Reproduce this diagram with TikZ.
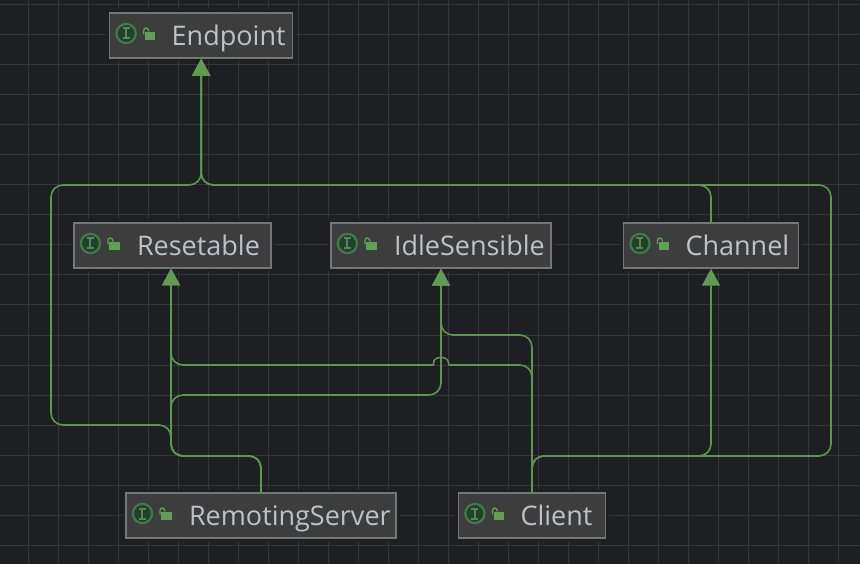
\documentclass[tikz,border=0pt]{standalone}
\usepackage{fontspec}
\setmainfont{Open Sans}
\usetikzlibrary{arrows.meta,calc}
\definecolor{bgc}{HTML}{1E1F22}
\definecolor{gridc}{HTML}{35363A}
\definecolor{boxc}{HTML}{3D3D3D}
\definecolor{boxl}{HTML}{767676}
\definecolor{edgec}{HTML}{5D9650}
\definecolor{tipc}{HTML}{629A52}
\definecolor{txtc}{HTML}{BAC2CC}
\definecolor{icond}{HTML}{24402A}
\definecolor{iconl}{HTML}{3F7A47}
\definecolor{lockc}{HTML}{5FA052}
\tikzset{
  x=1pt,y=-1pt,
  gridline/.style={draw=gridc,line width=1pt},
  ibox/.style={draw=boxl,fill=boxc,line width=1.5pt,text=txtc,
    preaction={draw=bgc,line width=7pt},
    minimum height=45pt,inner xsep=7pt,inner ysep=0pt,text height=25pt,text depth=5.4pt,
    text width=#1pt-14pt,align=left,font=\fontsize{27}{32}\selectfont},
  edgeline/.style={draw=edgec,line width=1.6pt,rounded corners=12pt},
  inherit/.style={edgeline,-{Triangle[width=18pt,length=17pt,fill=tipc,color=tipc]}},
}
\newcommand{\ifaceicon}[1]{%
  \begin{scope}[shift={(#1.west)}]
    \draw[iconl,fill=icond,line width=2.2pt] (17.2,-2) circle[radius=9.6pt];
    \draw[iconl!90!white,line width=2pt] (17.2,-7) -- (17.2,3) (13.7,-7) -- (20.7,-7) (13.7,3) -- (20.7,3);
    \fill[lockc] (36,-3.5) rectangle (46.5,4.5);
    \draw[lockc,line width=1.3pt] (34.8,-1) -- (34.8,-5) .. controls (34.8,-8.5) and (39.5,-8.5) .. (39.8,-4);
  \end{scope}}
\newcommand{\lbl}[2]{\hspace*{#1pt}\mbox{#2}}
\begin{document}
\begin{tikzpicture}
\useasboundingbox (0,0) rectangle (860,564);
\fill[bgc] (0,0) rectangle (860,564);
\foreach \gx in {28,58,...,838} \draw[gridline] (\gx,0) -- (\gx,564);
\foreach \gy in {5,35,...,545} \draw[gridline] (0,\gy) -- (860,\gy);

\node[ibox=183] (endpoint) at (201.2,35.5) {\lbl{55}{Endpoint}};
\node[ibox=197] (resetable) at (172.5,245.5) {\lbl{56}{Resetable}};
\node[ibox=220] (idle) at (441,245.5) {\lbl{56}{IdleSensible}};
\node[ibox=175] (channel) at (711,245.5) {\lbl{55}{Channel}};
\node[ibox=270] (server) at (261,515.5) {\lbl{56}{RemotingServer}};
\node[ibox=147] (client) at (532,515.5) {\lbl{55}{Client}};
\foreach \n in {endpoint,resetable,idle,channel,server,client} {\ifaceicon{\n}}

\coordinate (epBus) at (201.2,185);
\coordinate (srvBus) at (171,456);
\coordinate (srvL) at (51,425);
\coordinate (srvR) at (171,425);
\coordinate (srvI) at (171,395);
\coordinate (cliBusR) at (831,456);
\coordinate (cliBusT) at (831,185);
\coordinate (cliI) at (532,335);
\coordinate (cliR) at (532,365);
\coordinate (bridgeR) at (448.5,365);
\coordinate (bridgeL) at (433.5,365);
\coordinate (resIn) at (171,268.5);

% Channel -> Endpoint
\draw[inherit] (channel.north) |- (epBus) -- (endpoint.south);
% Client -> Endpoint
\draw[inherit] (client.north) |- (cliBusR) -- (cliBusT) -- (epBus) -- (endpoint.south);
% Client -> Channel
\draw[inherit] (client.north) |- (channel.south |- cliBusR) -- (channel.south);
% Client -> IdleSensible
\draw[inherit] (client.north) |- (idle.south |- cliI) -- (idle.south);
% Client -> Resetable, split around a bridge over the IdleSensible line
\draw[edgeline] (client.north) -- (cliR) -- (bridgeR);
\draw[draw=edgec,line width=1.5pt] (bridgeR) -- (448.5,363)
  .. controls (448.5,355.5) and (433.5,355.5) .. (433.5,363) -- (bridgeL);
\draw[inherit] (bridgeL) -- (srvI |- bridgeL) -- (resIn);
% RemotingServer -> Resetable
\draw[inherit] (server.north) |- (srvBus) -- (resIn);
% RemotingServer -> IdleSensible
\draw[inherit] (server.north) |- (srvBus) -- (srvI) -| (idle.south);
% RemotingServer -> Endpoint
\draw[inherit] (server.north) |- (srvBus) -- (srvR) -- (srvL) -- (51,185) -- (epBus) -- (endpoint.south);
\end{tikzpicture}
\end{document}
